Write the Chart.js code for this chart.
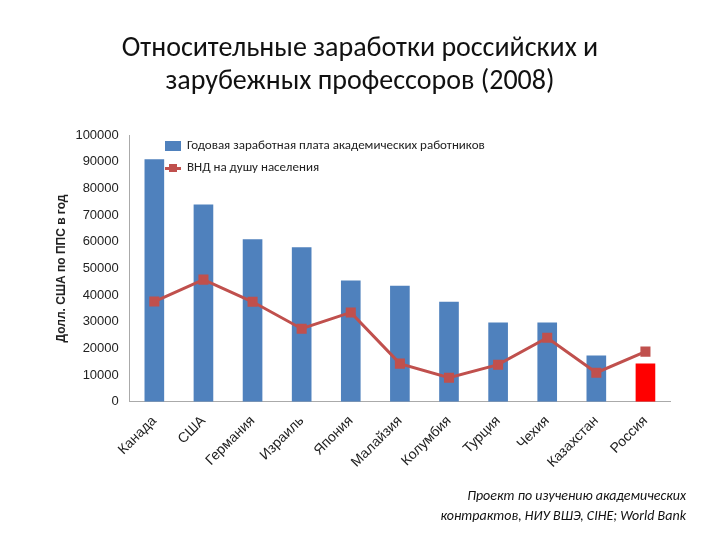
<!DOCTYPE html>
<html><head><meta charset="utf-8">
<script src="https://cdn.jsdelivr.net/npm/chart.js@4"></script>
<style>
body{margin:0;background:#fff;font-family:Calibri,"Liberation Sans","Open Sans",sans-serif}
#wrap{position:relative;width:720px;height:540px}
#legend{position:absolute;left:165px;top:134px;font-size:13px;color:#222;line-height:22px}
.sw{display:inline-block;vertical-align:middle;margin-right:6px}
#note{position:absolute;right:34px;top:486px;text-align:right;font-style:italic;font-size:14px;line-height:20px;color:#111}
</style></head><body>
<div id="wrap">
<canvas id="c" width="720" height="540"></canvas>
<div id="legend">
<div><span class="sw" style="width:16px;height:10px;background:#4F81BD"></span>Годовая заработная плата академических работников</div>
<div><span class="sw" style="position:relative;width:16px;height:10px"><span style="position:absolute;left:0;top:4px;width:16px;height:3px;background:#C0504D"></span><span style="position:absolute;left:4px;top:1px;width:8px;height:8px;background:#C0504D"></span></span>ВНД на душу населения</div>
</div>
<div id="note">Проект по изучению академических<br>контрактов, НИУ ВШЭ, CIHE; World Bank</div>
</div>
<script>
const countries = ['Канада','США','Германия','Израиль','Япония','Малайзия','Колумбия','Турция','Чехия','Казахстан','Россия'];
const salary = [91000,74000,61000,58000,45500,43500,37500,29700,29700,17300,14300];
const gni = [37600,45800,37500,27400,33500,14300,9000,13900,24000,10900,18800];
const barColors = countries.map(c => c === 'Россия' ? '#FF0000' : '#4F81BD');

new Chart(document.getElementById('c'), {
  data: {
    labels: countries,
    datasets: [
      { type: 'line', data: gni, borderColor: '#C0504D', backgroundColor: '#C0504D', borderWidth: 3,
        pointStyle: 'rect', pointRadius: 5, order: 0 },
      { type: 'bar', data: salary, backgroundColor: barColors, barPercentage: 0.5, categoryPercentage: 0.8, order: 1 }
    ]
  },
  options: {
    responsive: false, animation: false,
    layout: { padding: { left: 50, right: 50, bottom: 66, top: 0 } },
    plugins: {
      legend: { display: false },
      title: { display: true, text: ['Относительные заработки российских и', 'зарубежных профессоров (2008)'],
        color: '#111', font: { size: 28, weight: 'normal', family: 'Calibri, "Open Sans", sans-serif' },
        padding: { top: 32, bottom: 36 } }
    },
    scales: {
      x: { grid: { display: false }, border: { color: '#aaa' },
        ticks: { color: '#222', font: { size: 14 }, minRotation: 45, maxRotation: 45 } },
      y: { min: 0, max: 100000, grid: { display: false }, border: { color: '#aaa' },
        ticks: { stepSize: 10000, color: '#222', font: { size: 13 }, callback: v => String(v) },
        title: { display: true, text: 'Долл. США по ППС в год', color: '#222', font: { size: 12, weight: 'bold' } } }
    }
  }
});
</script>
</body></html>
